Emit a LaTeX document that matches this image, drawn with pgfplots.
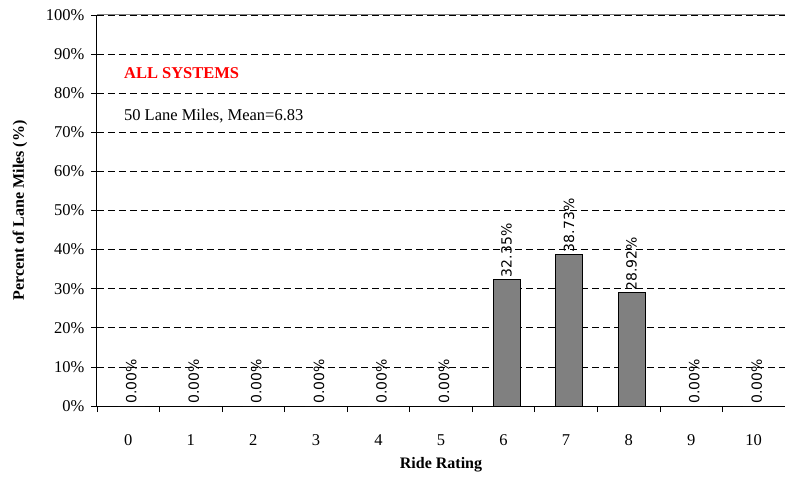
\documentclass[border=0pt]{standalone}
\usepackage{pgfplots}
\pgfplotsset{compat=1.18}
\usepackage{fontspec}
\setmainfont{Liberation Serif}
\newfontfamily\barfont{DejaVu Sans}
\usetikzlibrary{calc}
\begin{document}
\begin{tikzpicture}
\begin{axis}[
  scale only axis, width=688pt, height=391pt,
  xmin=-0.5, xmax=10.5, ymin=0, ymax=100,
  axis x line*=bottom, axis y line*=left,
  axis line style={black, line width=1pt, -},
  /pgf/number format/assume math mode=true,
  ybar, bar width=27pt,
  xtick={0,...,10},
  major x tick style={draw=none},
  minor xtick={-0.5,0.5,...,10.5},
  minor x tick style={black, line width=0.8pt},
  minor tick length=6pt,
  ytick={0,10,...,100},
  major tick length=6pt,
  y tick style={black, line width=0.8pt},
  tick align=outside,
  yticklabel={\pgfmathprintnumber{\tick}\%},
  ticklabel style={font=\fontsize{16.5}{19}\selectfont},
  xticklabel style={yshift=-19pt},
  yticklabel style={xshift=-3pt},
  ymajorgrids,
  grid style={black, line width=0.8pt, dash pattern=on 7pt off 4pt},
  ylabel={\bfseries Percent of Lane Miles (\%)},
  ylabel style={at={(axis description cs:-0.112,0.5)}, anchor=center, font=\fontsize{16}{19}\selectfont},
  xlabel={\bfseries Ride Rating},
  xlabel style={at={(axis description cs:0.5,0)}, anchor=center, yshift=-59pt, font=\fontsize{16}{19}\selectfont},
  nodes near coords={\pgfmathprintnumber[fixed,zerofill,precision=2]{\pgfplotspointmeta}\%},
  nodes near coords style={rotate=90, anchor=west, font=\barfont\fontsize{14}{16}\selectfont, inner sep=2pt},
]
\addplot[fill=black!50, draw=black, line width=1pt, bar shift=3pt] coordinates {
(0,0) (1,0) (2,0) (3,0) (4,0) (5,0) (6,32.35) (7,38.73) (8,28.92) (9,0) (10,0)};
\draw[black!50, line width=1pt] (axis cs:-0.5,100) -- (axis cs:10.5,100);
\node[anchor=west, text=red, font=\bfseries\fontsize{16.5}{19}\selectfont, inner sep=0pt] at (axis cs:-0.07,85.2) {ALL SYSTEMS};
\node[anchor=west, font=\fontsize{16.5}{19}\selectfont, inner sep=0pt] at (axis cs:-0.07,74.2) {50 Lane Miles, Mean=6.83};
\coordinate (A) at (rel axis cs:0,0);
\coordinate (B) at (rel axis cs:1,1);
\end{axis}
\pgfresetboundingbox
\path ($(A)+(-97pt,-74pt)$) rectangle ($(B)+(0pt,15pt)$);
\end{tikzpicture}
\end{document}
